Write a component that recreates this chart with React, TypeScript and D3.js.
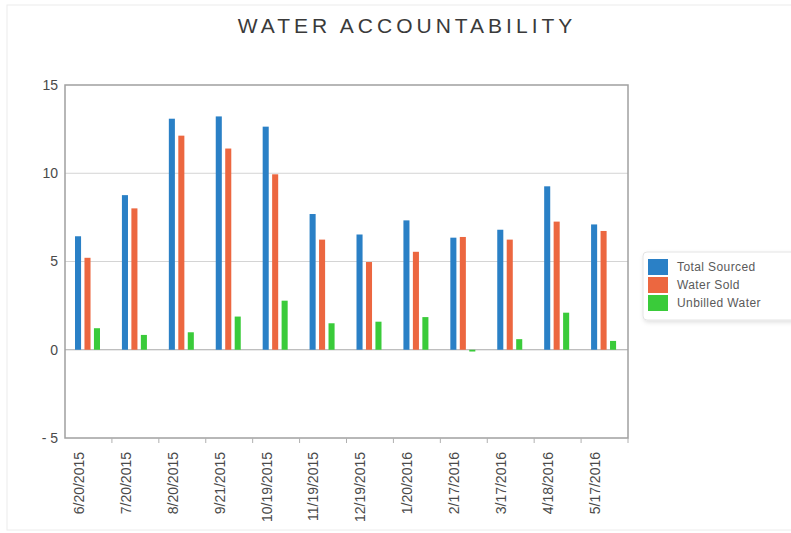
import React, { useEffect, useRef } from "react";
import * as d3 from "d3";

const dates = [
  "6/20/2015", "7/20/2015", "8/20/2015", "9/21/2015", "10/19/2015", "11/19/2015",
  "12/19/2015", "1/20/2016", "2/17/2016", "3/17/2016", "4/18/2016", "5/17/2016",
];
const seriesNames = ["Total Sourced", "Water Sold", "Unbilled Water"];
const totalSourced = [6.43, 8.76, 13.09, 13.22, 12.64, 7.69, 6.53, 7.33, 6.35, 6.8, 9.26, 7.1];
const waterSold = [5.21, 8.01, 12.13, 11.4, 9.94, 6.24, 4.97, 5.55, 6.39, 6.24, 7.26, 6.73];
const unbilledWater = [1.22, 0.84, 0.99, 1.88, 2.78, 1.5, 1.59, 1.85, -0.1, 0.6, 2.1, 0.5];
const yTicks = [-5, 0, 5, 10, 15];
const colors = ["#2a80c6", "#ec6740", "#3acb3a"];

export default function App() {
  const ref = useRef<SVGSVGElement>(null);

  useEffect(() => {
    const svg = d3.select(ref.current);
    svg.selectAll("*").remove();

    const margin = { left: 65, top: 85, right: 628, bottom: 438 };
    const series = [totalSourced, waterSold, unbilledWater];
    const font = "Arial, 'Liberation Sans', sans-serif";

    // faint outer frame
    svg.append("rect")
      .attr("x", 7).attr("y", 5).attr("width", 820).attr("height", 525)
      .attr("fill", "none").attr("stroke", "#ececec");

    svg.append("text")
      .attr("x", 407).attr("y", 33)
      .attr("text-anchor", "middle")
      .attr("font-family", font)
      .attr("font-size", 21)
      .attr("letter-spacing", 4)
      .attr("fill", "#3a3a3a")
      .text("WATER ACCOUNTABILITY");

    const x = d3.scaleBand().domain(dates).range([margin.left, margin.right]);
    const x1 = d3.scaleBand().domain(seriesNames).range([10, 35]).paddingInner(0.36);
    const y = d3.scaleLinear().domain([-5, 15]).range([margin.bottom, margin.top]);

    // gridlines
    svg.append("g")
      .selectAll("line")
      .data(yTicks.filter((t) => t !== -5 && t !== 15))
      .enter()
      .append("line")
      .attr("x1", margin.left).attr("x2", margin.right)
      .attr("y1", (d) => y(d)).attr("y2", (d) => y(d))
      .attr("stroke", (d) => (d === 0 ? "#a8a8a8" : "#d4d4d4"))
      .attr("stroke-width", 1);

    // y labels
    svg.append("g")
      .selectAll("text")
      .data(yTicks)
      .enter()
      .append("text")
      .attr("x", 58)
      .attr("y", (d) => y(d))
      .attr("dy", "0.35em")
      .attr("text-anchor", "end")
      .attr("font-family", font)
      .attr("font-size", 14)
      .attr("fill", "#4a4a4a")
      .text((d) => (d < 0 ? `- ${Math.abs(d)}` : `${d}`));

    // bars
    seriesNames.forEach((name, s) => {
      svg.append("g")
        .selectAll("rect")
        .data(series[s])
        .enter()
        .append("rect")
        .attr("x", (d, i) => (x(dates[i]) as number) + (x1(name) as number))
        .attr("width", x1.bandwidth())
        .attr("y", (d) => y(Math.max(0, d)))
        .attr("height", (d) => Math.abs(y(d) - y(0)))
        .attr("fill", colors[s]);
    });

    // plot border
    svg.append("rect")
      .attr("x", margin.left).attr("y", margin.top)
      .attr("width", margin.right - margin.left)
      .attr("height", margin.bottom - margin.top)
      .attr("fill", "none")
      .attr("stroke", "#a0a0a0")
      .attr("stroke-width", 1.5);

    // x ticks at band boundaries
    svg.append("g")
      .selectAll("line")
      .data(dates)
      .enter()
      .append("line")
      .attr("x1", (d) => (x(d) as number) + x.bandwidth())
      .attr("x2", (d) => (x(d) as number) + x.bandwidth())
      .attr("y1", margin.bottom).attr("y2", margin.bottom + 5)
      .attr("stroke", "#b0b0b0");

    // x labels
    svg.append("g")
      .selectAll("text")
      .data(dates)
      .enter()
      .append("text")
      .attr("transform", (d) => `translate(${(x(d) as number) + 14}, 452) rotate(-90)`)
      .attr("dy", "0.35em")
      .attr("text-anchor", "end")
      .attr("font-family", font)
      .attr("font-size", 14)
      .attr("fill", "#4a4a4a")
      .text((d) => d);

    // legend
    const defs = svg.append("defs");
    const filter = defs.append("filter").attr("id", "shadow")
      .attr("x", "-10%").attr("y", "-10%").attr("width", "130%").attr("height", "140%");
    filter.append("feDropShadow")
      .attr("dx", 1).attr("dy", 2).attr("stdDeviation", 2)
      .attr("flood-color", "#000").attr("flood-opacity", 0.12);

    const legend = svg.append("g").attr("transform", "translate(643, 252)");
    legend.append("rect")
      .attr("width", 170).attr("height", 68).attr("rx", 4)
      .attr("fill", "#fff").attr("stroke", "#e4e4e4")
      .attr("filter", "url(#shadow)");
    seriesNames.forEach((name, s) => {
      legend.append("rect")
        .attr("x", 5).attr("y", 7 + s * 18)
        .attr("width", 20).attr("height", 16)
        .attr("fill", colors[s]);
      legend.append("text")
        .attr("x", 34).attr("y", 15 + s * 18)
        .attr("dy", "0.35em")
        .attr("font-family", font)
        .attr("font-size", 12)
        .attr("letter-spacing", 0.4)
        .attr("fill", "#5a5a5a")
        .text(name);
    });
  }, []);

  return (
    <svg
      ref={ref}
      width={791}
      height={533}
      style={{ position: "absolute", left: 0, top: 0, background: "#fff" }}
    />
  );
}
